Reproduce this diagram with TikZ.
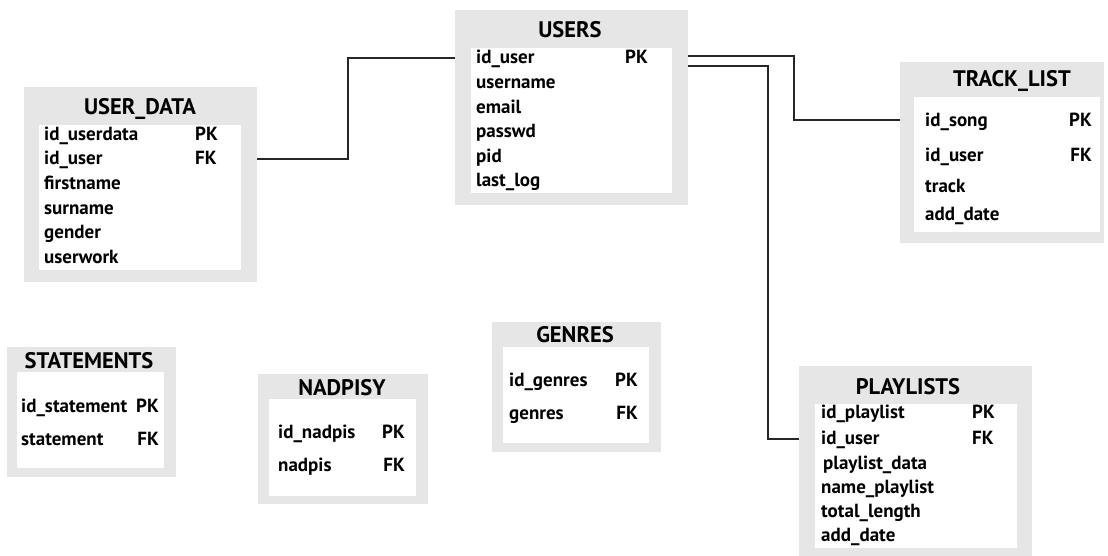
\documentclass[tikz,border=0pt]{standalone}
\usepackage{fontspec}
\setmainfont{PT Sans}
\definecolor{boxgray}{HTML}{E6E6E6}
\definecolor{linecol}{HTML}{262626}
\begin{document}
\begin{tikzpicture}[x=1pt,y=-1pt,
  outerbox/.style={fill=boxgray, anchor=north west, inner sep=0pt, outer sep=0pt},
  innerbox/.style={fill=white, anchor=north west, inner sep=0pt, outer sep=0pt},
  ttl/.style={font=\bfseries\fontsize{22.5}{26}\selectfont, anchor=base, inner sep=0pt},
  fld/.style={font=\bfseries\fontsize{19}{22}\selectfont, anchor=mid west, inner sep=0pt, yshift=-2pt},
  keyr/.style={font=\bfseries\fontsize{19}{22}\selectfont, anchor=mid east, inner sep=0pt, yshift=-2pt},
  conn/.style={line width=1.3pt, draw=linecol}
]
\useasboundingbox (0,0) rectangle (1108,556);

% ---------- USER_DATA ----------
\node[outerbox, minimum width=233pt, minimum height=195pt] (udO) at (24,87) {};
\node[innerbox, minimum width=202pt, minimum height=145pt] (udI) at (39,125) {};
\node[ttl] (udT) at (140,115) {USER\_DATA};
\node[fld] (ud1) at (44,136) {id\_userdata};
\node[fld] (ud2) at (44,160) {id\_user};
\node[fld] (ud3) at (44,185) {firstname};
\node[fld] (ud4) at (44,210) {surname};
\node[fld] (ud5) at (44,234) {gender};
\node[fld] (ud6) at (44,259) {userwork};
\node[fld] (udk1) at (195,136) {PK};
\node[fld] (udk2) at (195,160) {FK};

% ---------- USERS ----------
\node[outerbox, minimum width=233pt, minimum height=195pt] (usO) at (455,10) {};
\node[innerbox, minimum width=201pt, minimum height=145pt] (usI) at (471,48) {};
\node[ttl] (usT) at (570,38) {USERS};
\node[fld] (us1) at (476,59) {id\_user};
\node[fld] (us2) at (476,84) {username};
\node[fld] (us3) at (476,109) {email};
\node[fld] (us4) at (476,133) {passwd};
\node[fld] (us5) at (476,158) {pid};
\node[fld] (us6) at (476,182) {last\_log};
\node[fld] (usk1) at (625,59) {PK};

% ---------- TRACK_LIST ----------
\node[outerbox, minimum width=204pt, minimum height=181pt] (tlO) at (900,62) {};
\node[innerbox, minimum width=186pt, minimum height=135pt] (tlI) at (914,97) {};
\node[ttl] (tlT) at (1012,87) {TRACK\_LIST};
\node[fld] (tl1) at (925,122) {id\_song};
\node[fld] (tl2) at (925,157) {id\_user};
\node[fld] (tl3) at (925,188) {track};
\node[fld] (tl4) at (925,216) {add\_date};
\node[keyr] (tlk1) at (1092,122) {PK};
\node[keyr] (tlk2) at (1092,157) {FK};

% ---------- STATEMENTS ----------
\node[outerbox, minimum width=169pt, minimum height=130pt] (stO) at (7,347) {};
\node[innerbox, minimum width=147pt, minimum height=96pt] (stI) at (17,372) {};
\node[ttl] (stT) at (89,368) {STATEMENTS};
\node[fld] (st1) at (21,408) {id\_statement};
\node[fld] (st2) at (21,441) {statement};
\node[keyr] (stk1) at (159,408) {PK};
\node[keyr] (stk2) at (159,441) {FK};

% ---------- NADPISY ----------
\node[outerbox, minimum width=170pt, minimum height=130pt] (naO) at (258,374) {};
\node[innerbox, minimum width=147pt, minimum height=97pt] (naI) at (269,399) {};
\node[ttl] (naT) at (342,395) {NADPISY};
\node[fld] (na1) at (278,434) {id\_nadpis};
\node[fld] (na2) at (278,467) {nadpis};
\node[keyr] (nak1) at (405,434) {PK};
\node[keyr] (nak2) at (405,467) {FK};

% ---------- GENRES ----------
\node[outerbox, minimum width=169pt, minimum height=130pt] (geO) at (492,322) {};
\node[innerbox, minimum width=146pt, minimum height=96pt] (geI) at (503,347) {};
\node[ttl] (geT) at (575,342) {GENRES};
\node[fld] (ge1) at (509,382) {id\_genres};
\node[fld] (ge2) at (509,415) {genres};
\node[keyr] (gek1) at (638,382) {PK};
\node[keyr] (gek2) at (638,415) {FK};

% ---------- PLAYLISTS ----------
\node[outerbox, minimum width=233pt, minimum height=190pt] (plO) at (799,366) {};
\node[innerbox, minimum width=202pt, minimum height=144pt] (plI) at (815,404) {};
\node[ttl] (plT) at (908,394) {PLAYLISTS};
\node[fld] (pl1) at (821,414) {id\_playlist};
\node[fld] (pl2) at (821,440) {id\_user};
\node[fld] (pl3) at (823,465) {playlist\_data};
\node[fld] (pl4) at (821,489) {name\_playlist};
\node[fld] (pl5) at (821,513) {total\_length};
\node[fld] (pl6) at (821,537) {add\_date};
\node[fld] (plk1) at (972,414) {PK};
\node[fld] (plk2) at (972,440) {FK};

% ---------- connectors ----------
\coordinate (b1) at (348,58);
\coordinate (b2) at (794,56);
\coordinate (b3) at (768,66);
\coordinate (b4) at (0,159);
\coordinate (b5) at (0,120);
\coordinate (b6) at (0,439);
\draw[conn] (udO.east |- b4) -| (b1) -- (usO.west |- b1);
\draw[conn] (usO.east |- b2) -- (b2) |- (tlO.west |- b5);
\draw[conn] (usO.east |- b3) -- (b3) |- (plO.west |- b6);
\end{tikzpicture}
\end{document}
